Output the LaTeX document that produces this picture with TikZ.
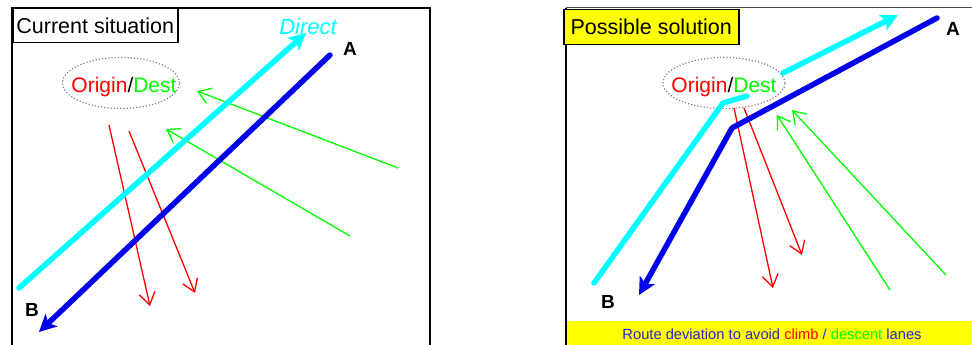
\documentclass[tikz,border=0pt]{standalone}
\usepackage{fontspec}
\setmainfont{Liberation Sans}
\usetikzlibrary{arrows.meta,shapes.geometric}
\definecolor{cyl}{RGB}{0,255,255}
\definecolor{bll}{RGB}{0,0,235}
\definecolor{grl}{RGB}{0,255,0}
\definecolor{rdl}{RGB}{255,0,0}
\definecolor{ylw}{RGB}{255,255,0}
\definecolor{txtblue}{RGB}{40,40,200}
\tikzset{
  frameline/.style={line width=1.5pt, black},
  titlebox/.style={draw=black, line width=1.5pt, inner sep=0pt, font=\fontsize{21.5}{24}\selectfont, anchor=north west},
  odellipse/.style={ellipse, draw=gray, line width=1.2pt, dash pattern=on 1.2pt off 2pt, inner sep=0pt},
  odtext/.style={font=\fontsize{21}{24}\selectfont, inner sep=0pt},
  ptlabel/.style={font=\bfseries\fontsize{19}{22}\selectfont, inner sep=0pt},
  thickcyan/.style={line width=5.5pt, cyl, line cap=round, line join=round, -{Stealth[length=17pt,width=17pt,inset=4pt]}},
  thickblue/.style={line width=5.5pt, bll, line cap=round, line join=round, -{Stealth[length=17pt,width=17pt,inset=4pt]}},
  lanered/.style={line width=1.3pt, rdl, -{Straight Barb[length=12pt,width=16pt]}},
  lanegreen/.style={line width=1.3pt, grl, -{Straight Barb[length=12pt,width=16pt]}}
}
\begin{document}
\begin{tikzpicture}[x=1pt,y=-1pt]
\useasboundingbox (0,0) rectangle (972,345);
% ---------------- left panel ----------------
\draw[frameline] (12,350) -- (12,8) -- (430,8) -- (430,350);
\node[titlebox, fill=white, minimum width=165pt, minimum height=34pt] (t1) at (12,8) {Current situation};
\node[odellipse, minimum width=117pt, minimum height=51pt] (e1) at (121,83) {};
\node[odtext] (od1) at (124,87) {\textcolor{rdl}{Origin}/\textcolor{grl}{Dest}};
\node[font=\itshape\fontsize{22}{24}\selectfont, text=cyl, inner sep=0pt] (dir) at (308,27) {Direct};
\node[ptlabel] (A1) at (350,49) {A};
\node[ptlabel] (B1) at (32,310) {B};
% lanes
\coordinate (g1s) at (398,168); \coordinate (g1e) at (197,91);
\coordinate (g2s) at (350,236); \coordinate (g2e) at (166,129);
\coordinate (r1s) at (109,125); \coordinate (r1e) at (150,306);
\coordinate (r2s) at (129,131); \coordinate (r2e) at (195,293);
\draw[lanegreen] (g1s) -- (g1e);
\draw[lanegreen] (g2s) -- (g2e);
\draw[lanered] (r1s) -- (r1e);
\draw[lanered] (r2s) -- (r2e);
% routes
\coordinate (c1s) at (19,288); \coordinate (c1e) at (306,33);
\coordinate (b1s) at (330,55); \coordinate (b1e) at (39,332);
\draw[thickcyan] (c1s) -- (c1e);
\draw[thickblue] (b1s) -- (b1e);
% ---------------- right panel ----------------
\draw[frameline] (566,350) -- (566,8);
\draw[line width=1pt, black!70] (566,8) -- (975,8);
\node[titlebox, fill=ylw, minimum width=175pt, minimum height=35pt] (t2) at (563,9) {Possible solution};
\node[odellipse, minimum width=122pt, minimum height=51pt] (e2) at (724,83) {};
\node[odtext] (od2) at (724,87) {\textcolor{rdl}{Origin}/\textcolor{grl}{Dest}};
\node[ptlabel] (A2) at (953,29) {A};
\node[ptlabel] (B2) at (608,302) {B};
% lanes
\coordinate (g3s) at (890,290); \coordinate (g3e) at (777,115);
\coordinate (g4s) at (946,275); \coordinate (g4e) at (792,110);
\coordinate (r3s) at (734,108); \coordinate (r3e) at (773,288);
\coordinate (r4s) at (744,108); \coordinate (r4e) at (802,255);
\draw[lanegreen] (g3s) -- (g3e);
\draw[lanegreen] (g4s) -- (g4e);
\draw[lanered] (r3s) -- (r3e);
\draw[lanered] (r4s) -- (r4e);
% routes
\coordinate (c2s) at (594,283); \coordinate (c2k) at (723,103); \coordinate (c2m) at (747,96);
\coordinate (c3s) at (783,73); \coordinate (c3e) at (898,15);
\coordinate (b2s) at (937,18); \coordinate (b2k) at (732,128); \coordinate (b2e) at (639,295);
\draw[line width=5.5pt, cyl, line cap=round, line join=round] (c2s) -- (c2k) -- (c2m);
\draw[thickcyan] (c3s) -- (c3e);
\draw[thickblue] (b2s) -- (b2k) -- (b2e);
% bottom bar
\fill[ylw] (566.75,321) rectangle (975,346);
\node[font=\fontsize{14.7}{16}\selectfont, text=txtblue, inner sep=0pt] (cap) at (772,334)
  {Route deviation to avoid \textcolor{rdl}{climb} / \textcolor{grl}{descent} lanes};
\end{tikzpicture}
\end{document}
